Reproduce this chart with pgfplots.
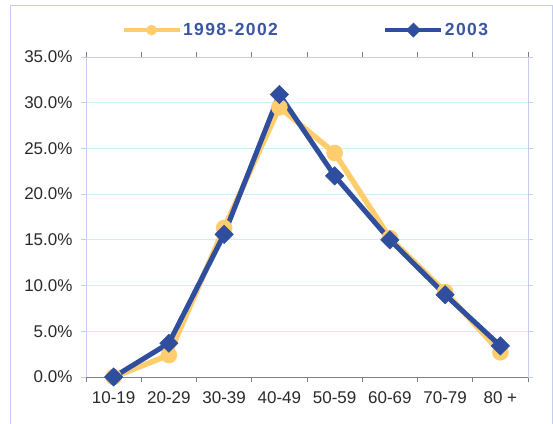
\documentclass[border=0pt]{standalone}
\usepackage{pgfplots}
\pgfplotsset{compat=1.18}
\usepackage{fontspec}
\setmainfont{Liberation Sans}
\definecolor{cyel}{HTML}{FFCC6E}
\definecolor{cblue}{HTML}{2F4E9E}
\definecolor{cleg}{HTML}{3A56A2}
\definecolor{cgrid}{HTML}{CDEFF8}
\definecolor{cframe}{HTML}{C4CCF2}
\definecolor{ctext}{HTML}{2A2A2A}
\begin{document}
\begin{tikzpicture}[x=1pt,y=1pt]
\path[use as bounding box] (0,0) rectangle (553,423);
\draw[cframe, line width=1pt] (10,-5) -- (10,417) -- (552,417) -- (552,-5);
\begin{axis}[
  at={(86pt,46pt)}, anchor=south west,
  width=442pt, height=320pt, scale only axis,
  clip=false,
  xmin=0.5, xmax=8.5, ymin=0, ymax=35,
  xtick={1,...,8},
  xticklabels={10-19,20-29,30-39,40-49,50-59,60-69,70-79,80 +},
  major x tick style={draw=none},
  minor xtick={0.5,1.5,...,8.5},
  minor x tick style={gray, line width=0.8pt},
  ytick={0,5,...,35},
  major y tick style={cframe, line width=0.8pt},
  yticklabel={\pgfmathprintnumber[fixed,fixed zerofill,precision=1]{\tick}\%},
  /pgf/number format/assume math mode=true,
  ymajorgrids, grid style={cgrid, line width=0.8pt},
  extra y ticks={0}, extra y tick labels={},
  extra y tick style={grid=major, major grid style={gray, line width=0.8pt}, major tick length=0pt},
  axis line style={cframe, line width=0.8pt},
  tick align=outside, major tick length=5pt, minor tick length=5pt,
  ticklabel style={font=\fontsize{17}{19}\selectfont, text=ctext},
  xticklabel style={yshift=-6pt},
  yticklabel style={xshift=-5pt},
  legend style={draw=none, fill=none, inner sep=0pt, at={(0.080,1.084)}, anchor=west,
    font=\fontsize{17.5}{20}\selectfont\bfseries\addfontfeature{LetterSpace=8},
    text=cleg, nodes={inner sep=1.5pt},
    /tikz/every even column/.append style={column sep=104pt}},
  legend columns=2,
  legend image code/.code={\draw[#1, line width=4pt, mark size=5pt, mark repeat=2, mark phase=2] plot coordinates {(0pt,0pt) (28pt,0pt) (56pt,0pt)};},
]
\addplot[cyel, line width=5.5pt, mark=*, mark size=8pt,
  mark options={fill=cyel, draw=cyel, line width=0.5pt}]
  coordinates {(1,0) (2,2.4) (3,16.3) (4,29.5) (5,24.5) (6,15.2) (7,9.3) (8,2.7)};
\addlegendentry{1998-2002}
\addplot[cblue, line width=5pt, mark=square*, mark size=6.5pt,
  mark options={rotate=45, fill=cblue, draw=cblue, line width=0.5pt}]
  coordinates {(1,0) (2,3.7) (3,15.6) (4,30.9) (5,22.0) (6,15.0) (7,9.0) (8,3.4)};
\addlegendentry{2003}
\end{axis}
\end{tikzpicture}
\end{document}
